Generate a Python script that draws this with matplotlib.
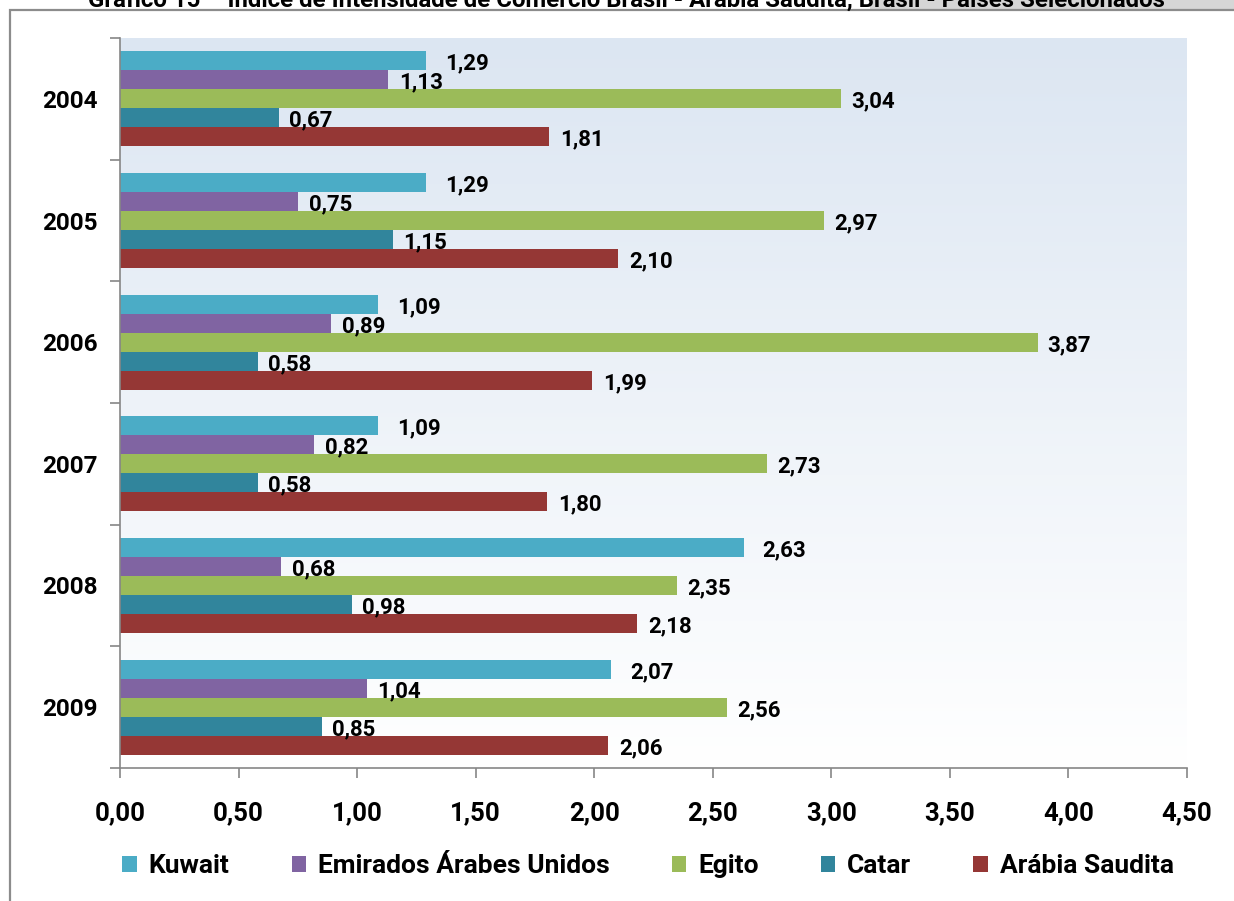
import numpy as np
import matplotlib.pyplot as plt
from matplotlib.patches import Rectangle, Patch

anos = ['2004', '2005', '2006', '2007', '2008', '2009']
paises = ['Kuwait', 'Emirados Árabes Unidos', 'Egito', 'Catar', 'Arábia Saudita']
kuwait = [1.29, 1.29, 1.09, 1.09, 2.63, 2.07]
emirados = [1.13, 0.75, 0.89, 0.82, 0.68, 1.04]
egito = [3.04, 2.97, 3.87, 2.73, 2.35, 2.56]
catar = [0.67, 1.15, 0.58, 0.58, 0.98, 0.85]
arabia = [1.81, 2.10, 1.99, 1.80, 2.18, 2.06]
x_ticks = [0.0, 0.5, 1.0, 1.5, 2.0, 2.5, 3.0, 3.5, 4.0, 4.5]

series = [kuwait, emirados, egito, catar, arabia]
cores = ['#4bacc6', '#8064a2', '#9bbb59', '#31859c', '#953735']
# deslocamento horizontal dos rotulos (px)
desloc = [19, 11, 10, 10, 11]

plt.rcParams['font.family'] = ['Roboto', 'DejaVu Sans']
plt.rcParams['font.weight'] = 'bold'

W, H = 1234, 901
fig = plt.figure(figsize=(W / 100, H / 100), dpi=100)
fig.patch.set_facecolor('white')

# faixa cinza e borda da area do grafico
fig.patches.append(Rectangle((870 / W, 1 - 10 / H), 364 / W, 10 / H, transform=fig.transFigure,
                             facecolor='#d6d6d6', edgecolor='none', zorder=0))
fig.patches.append(Rectangle((10 / W, -0.05), 1.2, 1 - 10 / H + 0.05, transform=fig.transFigure,
                             facecolor='none', edgecolor='#8c8c8c', lw=1.6, zorder=1))
fig.text(88 / W, 1 + 1 / H,
         'Gráfico 15 – Índice de Intensidade de Comércio Brasil - Arábia Saudita, Brasil - Países Selecionados',
         fontsize=17.3, fontweight='bold', va='center', ha='left', zorder=2)

left, right, top, bottom = 120, 1187, 38, 768
ax = fig.add_axes([left / W, (H - bottom) / H, (right - left) / W, (bottom - top) / H])
ax.set_facecolor('none')

# fundo em degrade
grad = np.linspace(0, 1, 256).reshape(-1, 1)
topo = np.array([220, 230, 242]) / 255
base = np.array([255, 255, 255]) / 255
img = topo[None, None, :] * (1 - grad[:, :, None]) + base[None, None, :] * grad[:, :, None]
ax.imshow(img, extent=[0, 4.5, 5.5, -0.5], aspect='auto', zorder=0)

h = 0.156
y = np.arange(len(anos))
for k, (vals, cor, nome) in enumerate(zip(series, cores, paises)):
    pos = y + (k - 2) * h
    ax.barh(pos, vals, height=h, color=cor, edgecolor='none', zorder=2, label=nome)
    for p, v in zip(pos, vals):
        ax.annotate(f'{v:.2f}'.replace('.', ','), xy=(v, p), xytext=(desloc[k] * 0.72, -2),
                    textcoords='offset points', ha='left', va='center',
                    fontsize=16, fontweight='bold', zorder=3)

ax.set_xlim(0, 4.5)
ax.set_ylim(5.5, -0.5)
ax.set_xticks(x_ticks)
ax.set_xticklabels([f'{t:.2f}'.replace('.', ',') for t in x_ticks], fontsize=18.5, fontweight='bold')
ax.set_yticks(y)
ax.set_yticklabels(anos, fontsize=17.5, fontweight='bold')
ax.set_yticks(np.arange(-0.5, 6, 1), minor=True)
ax.tick_params(axis='y', which='major', length=0, pad=16)
ax.tick_params(axis='y', which='minor', length=7, width=1.2, color='#868686', direction='out')
ax.tick_params(axis='x', length=7, width=1.2, color='#868686', direction='out', pad=17)

for s in ['top', 'right']:
    ax.spines[s].set_visible(False)
for s in ['left', 'bottom']:
    ax.spines[s].set_color('#868686')
    ax.spines[s].set_linewidth(1.2)

handles = [Patch(facecolor=c, edgecolor='none') for c in cores]
fig.legend(handles, paises, loc='center', bbox_to_anchor=(648 / W, 1 - 866 / H), ncol=5,
           frameon=False, prop={'size': 19, 'weight': 'bold'},
           handlelength=0.55, handleheight=0.55, handletextpad=0.45, columnspacing=2.35)

fig.savefig('out.png', dpi=100, facecolor='white')
